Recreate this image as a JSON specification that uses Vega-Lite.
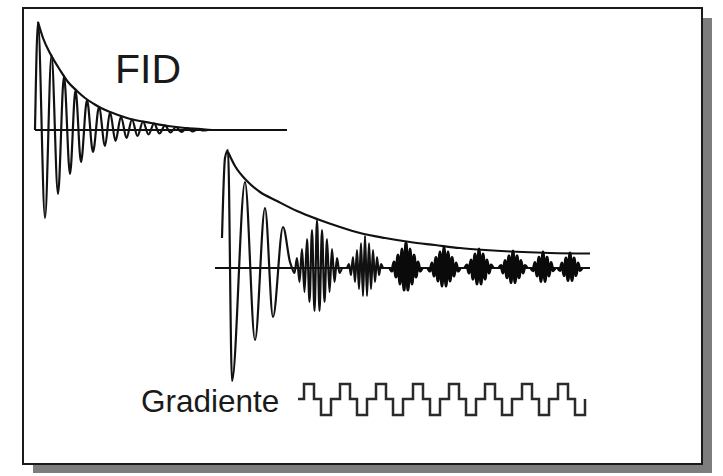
{
  "$schema": "https://vega.github.io/schema/vega-lite/v6.json",
  "width": 723,
  "height": 476,
  "padding": 0,
  "autosize": {"type": "none"},
  "background": "white",
  "config": {"view": {"stroke": null}},
  "datasets": {
    "frame": [
      {"part": "shadow", "x": 33, "x2": 712, "y": 18, "y2": 473},
      {"part": "box", "x": 23, "x2": 702, "y": 8, "y2": 464}
    ],
    "axes": [
      {"s": "fid", "x": 35, "x2": 287, "y": 130},
      {"s": "echo", "x": 215, "x2": 590, "y": 268}
    ],
    "env": [
      {"s": "e1", "t": 38, "v": 22}, {"s": "e1", "t": 43, "v": 38}, {"s": "e1", "t": 51, "v": 55}, {"s": "e1", "t": 60, "v": 70},
      {"s": "e1", "t": 68, "v": 82}, {"s": "e1", "t": 77, "v": 91}, {"s": "e1", "t": 85, "v": 98}, {"s": "e1", "t": 94, "v": 104},
      {"s": "e1", "t": 101, "v": 108}, {"s": "e1", "t": 110, "v": 112}, {"s": "e1", "t": 118, "v": 115}, {"s": "e1", "t": 127, "v": 118},
      {"s": "e1", "t": 135, "v": 120}, {"s": "e1", "t": 151, "v": 123}, {"s": "e1", "t": 168, "v": 126}, {"s": "e1", "t": 185, "v": 128},
      {"s": "e1", "t": 201, "v": 129}, {"s": "e1", "t": 212, "v": 130},
      {"s": "e2", "t": 228, "v": 152}, {"s": "e2", "t": 235, "v": 166}, {"s": "e2", "t": 247, "v": 181}, {"s": "e2", "t": 260, "v": 192},
      {"s": "e2", "t": 277, "v": 201}, {"s": "e2", "t": 297, "v": 211}, {"s": "e2", "t": 317, "v": 219}, {"s": "e2", "t": 340, "v": 227},
      {"s": "e2", "t": 360, "v": 233}, {"s": "e2", "t": 385, "v": 238}, {"s": "e2", "t": 410, "v": 242}, {"s": "e2", "t": 435, "v": 245},
      {"s": "e2", "t": 460, "v": 248}, {"s": "e2", "t": 485, "v": 250}, {"s": "e2", "t": 510, "v": 251.5}, {"s": "e2", "t": 550, "v": 253},
      {"s": "e2", "t": 590, "v": 253.5}
    ],
    "sig": [
      {"s": "f1", "t": 35, "v": 130}, {"s": "f1", "t": 38, "v": 22}, {"s": "f1", "t": 45, "v": 218}, {"s": "f1", "t": 51.5, "v": 55},
      {"s": "f1", "t": 58, "v": 194}, {"s": "f1", "t": 64, "v": 76}, {"s": "f1", "t": 70, "v": 174}, {"s": "f1", "t": 75.5, "v": 90},
      {"s": "f1", "t": 81, "v": 162}, {"s": "f1", "t": 87, "v": 100}, {"s": "f1", "t": 93, "v": 152}, {"s": "f1", "t": 99, "v": 107},
      {"s": "f1", "t": 105, "v": 146}, {"s": "f1", "t": 110, "v": 112}, {"s": "f1", "t": 115.5, "v": 141}, {"s": "f1", "t": 121, "v": 116.5},
      {"s": "f1", "t": 126.5, "v": 138}, {"s": "f1", "t": 132, "v": 119.5}, {"s": "f1", "t": 137.5, "v": 136}, {"s": "f1", "t": 143, "v": 121.5},
      {"s": "f1", "t": 148.5, "v": 134.5}, {"s": "f1", "t": 154, "v": 123.5}, {"s": "f1", "t": 159.5, "v": 133.5}, {"s": "f1", "t": 165, "v": 125.5},
      {"s": "f1", "t": 170.5, "v": 132.5}, {"s": "f1", "t": 176, "v": 127}, {"s": "f1", "t": 181.5, "v": 132}, {"s": "f1", "t": 187, "v": 128},
      {"s": "f1", "t": 192.5, "v": 131.5}, {"s": "f1", "t": 198, "v": 129}, {"s": "f1", "t": 203, "v": 130.5}, {"s": "f1", "t": 208, "v": 130},

      {"s": "f2", "t": 222, "v": 238}, {"s": "f2", "t": 225, "v": 158}, {"s": "f2", "t": 228, "v": 150}, {"s": "f2", "t": 232, "v": 381},
      {"s": "f2", "t": 245, "v": 182}, {"s": "f2", "t": 255, "v": 340}, {"s": "f2", "t": 265, "v": 208}, {"s": "f2", "t": 273, "v": 317},
      {"s": "f2", "t": 283, "v": 227}, {"s": "f2", "t": 290, "v": 262}, {"s": "f2", "t": 292, "v": 268},

      {"s": "h1", "t": 292, "v": 268}, {"s": "h1", "t": 294.5, "v": 273}, {"s": "h1", "t": 297, "v": 258}, {"s": "h1", "t": 299.5, "v": 282},
      {"s": "h1", "t": 302, "v": 249}, {"s": "h1", "t": 304.5, "v": 292}, {"s": "h1", "t": 307, "v": 239}, {"s": "h1", "t": 309.5, "v": 302},
      {"s": "h1", "t": 312, "v": 230}, {"s": "h1", "t": 314.5, "v": 311}, {"s": "h1", "t": 317, "v": 220}, {"s": "h1", "t": 319.5, "v": 311},
      {"s": "h1", "t": 322, "v": 230}, {"s": "h1", "t": 324.5, "v": 302}, {"s": "h1", "t": 327, "v": 239}, {"s": "h1", "t": 329.5, "v": 292},
      {"s": "h1", "t": 332, "v": 249}, {"s": "h1", "t": 334.5, "v": 282}, {"s": "h1", "t": 337, "v": 258}, {"s": "h1", "t": 339.5, "v": 273},
      {"s": "h1", "t": 342, "v": 268},

      {"s": "h2", "t": 347, "v": 268}, {"s": "h2", "t": 349, "v": 264}, {"s": "h2", "t": 351, "v": 275}, {"s": "h2", "t": 353, "v": 257},
      {"s": "h2", "t": 355, "v": 282}, {"s": "h2", "t": 357, "v": 250}, {"s": "h2", "t": 359, "v": 289}, {"s": "h2", "t": 361, "v": 243},
      {"s": "h2", "t": 363, "v": 296}, {"s": "h2", "t": 365, "v": 236}, {"s": "h2", "t": 367, "v": 296}, {"s": "h2", "t": 369, "v": 243},
      {"s": "h2", "t": 371, "v": 289}, {"s": "h2", "t": 373, "v": 250}, {"s": "h2", "t": 375, "v": 282}, {"s": "h2", "t": 377, "v": 257},
      {"s": "h2", "t": 379, "v": 275}, {"s": "h2", "t": 381, "v": 264}, {"s": "h2", "t": 383, "v": 268},

      {"s": "h3", "t": 390, "v": 268}, {"s": "h3", "t": 392, "v": 271}, {"s": "h3", "t": 394, "v": 262}, {"s": "h3", "t": 396, "v": 277},
      {"s": "h3", "t": 398, "v": 255}, {"s": "h3", "t": 400, "v": 284}, {"s": "h3", "t": 402, "v": 249}, {"s": "h3", "t": 404, "v": 290},
      {"s": "h3", "t": 406, "v": 243}, {"s": "h3", "t": 408, "v": 290}, {"s": "h3", "t": 410, "v": 249}, {"s": "h3", "t": 412, "v": 284},
      {"s": "h3", "t": 414, "v": 255}, {"s": "h3", "t": 416, "v": 277}, {"s": "h3", "t": 418, "v": 262}, {"s": "h3", "t": 420, "v": 271},
      {"s": "h3", "t": 422, "v": 268},

      {"s": "h4", "t": 428, "v": 268}, {"s": "h4", "t": 430, "v": 271}, {"s": "h4", "t": 432, "v": 263}, {"s": "h4", "t": 434, "v": 276},
      {"s": "h4", "t": 436, "v": 257.5}, {"s": "h4", "t": 438, "v": 281}, {"s": "h4", "t": 440, "v": 252}, {"s": "h4", "t": 442, "v": 286},
      {"s": "h4", "t": 444, "v": 247}, {"s": "h4", "t": 446, "v": 286}, {"s": "h4", "t": 448, "v": 252}, {"s": "h4", "t": 450, "v": 281},
      {"s": "h4", "t": 452, "v": 257.5}, {"s": "h4", "t": 454, "v": 276}, {"s": "h4", "t": 456, "v": 263}, {"s": "h4", "t": 458, "v": 271},
      {"s": "h4", "t": 460, "v": 268},

      {"s": "h5", "t": 465, "v": 268}, {"s": "h5", "t": 467, "v": 265}, {"s": "h5", "t": 469, "v": 273}, {"s": "h5", "t": 471, "v": 260},
      {"s": "h5", "t": 473, "v": 279}, {"s": "h5", "t": 475, "v": 254}, {"s": "h5", "t": 477, "v": 284}, {"s": "h5", "t": 479, "v": 249},
      {"s": "h5", "t": 481, "v": 284}, {"s": "h5", "t": 483, "v": 254}, {"s": "h5", "t": 485, "v": 279}, {"s": "h5", "t": 487, "v": 260},
      {"s": "h5", "t": 489, "v": 273}, {"s": "h5", "t": 491, "v": 265}, {"s": "h5", "t": 493, "v": 268},

      {"s": "h6", "t": 499, "v": 268}, {"s": "h6", "t": 501, "v": 265.6}, {"s": "h6", "t": 503, "v": 273}, {"s": "h6", "t": 505, "v": 260.7},
      {"s": "h6", "t": 507, "v": 277.7}, {"s": "h6", "t": 509, "v": 255.9}, {"s": "h6", "t": 511, "v": 282.6}, {"s": "h6", "t": 513, "v": 251},
      {"s": "h6", "t": 515, "v": 282.6}, {"s": "h6", "t": 517, "v": 255.9}, {"s": "h6", "t": 519, "v": 277.7}, {"s": "h6", "t": 521, "v": 260.7},
      {"s": "h6", "t": 523, "v": 273}, {"s": "h6", "t": 525, "v": 265.6}, {"s": "h6", "t": 527, "v": 268},

      {"s": "h7", "t": 531, "v": 268}, {"s": "h7", "t": 533, "v": 270.7}, {"s": "h7", "t": 535, "v": 262.7}, {"s": "h7", "t": 537, "v": 276},
      {"s": "h7", "t": 539, "v": 257.3}, {"s": "h7", "t": 541, "v": 281.3}, {"s": "h7", "t": 543, "v": 252}, {"s": "h7", "t": 545, "v": 281.3},
      {"s": "h7", "t": 547, "v": 257.3}, {"s": "h7", "t": 549, "v": 276}, {"s": "h7", "t": 551, "v": 262.7}, {"s": "h7", "t": 553, "v": 270.7},
      {"s": "h7", "t": 555, "v": 268},

      {"s": "h8", "t": 558, "v": 268}, {"s": "h8", "t": 560, "v": 270.5}, {"s": "h8", "t": 562, "v": 263}, {"s": "h8", "t": 564, "v": 275.5},
      {"s": "h8", "t": 566, "v": 258}, {"s": "h8", "t": 568, "v": 280.5}, {"s": "h8", "t": 570, "v": 253}, {"s": "h8", "t": 572, "v": 280.5},
      {"s": "h8", "t": 574, "v": 258}, {"s": "h8", "t": 576, "v": 275.5}, {"s": "h8", "t": 578, "v": 263}, {"s": "h8", "t": 580, "v": 270.5},
      {"s": "h8", "t": 582, "v": 268}
    ],
    "grad": [
      {"t": 298, "v": 399}, {"t": 304, "v": 399}, {"t": 304, "v": 384}, {"t": 314, "v": 384}, {"t": 314, "v": 399}, {"t": 321, "v": 399}, {"t": 321, "v": 415}, {"t": 331, "v": 415}, {"t": 331, "v": 399}, {"t": 340, "v": 399},
      {"t": 340, "v": 384}, {"t": 350, "v": 384}, {"t": 350, "v": 399}, {"t": 357, "v": 399}, {"t": 357, "v": 415}, {"t": 367, "v": 415}, {"t": 367, "v": 399}, {"t": 376, "v": 399},
      {"t": 376, "v": 384}, {"t": 386, "v": 384}, {"t": 386, "v": 399}, {"t": 393, "v": 399}, {"t": 393, "v": 415}, {"t": 403, "v": 415}, {"t": 403, "v": 399}, {"t": 413, "v": 399},
      {"t": 413, "v": 384}, {"t": 423, "v": 384}, {"t": 423, "v": 399}, {"t": 430, "v": 399}, {"t": 430, "v": 415}, {"t": 440, "v": 415}, {"t": 440, "v": 399}, {"t": 449, "v": 399},
      {"t": 449, "v": 384}, {"t": 459, "v": 384}, {"t": 459, "v": 399}, {"t": 466, "v": 399}, {"t": 466, "v": 415}, {"t": 476, "v": 415}, {"t": 476, "v": 399}, {"t": 485, "v": 399},
      {"t": 485, "v": 384}, {"t": 495, "v": 384}, {"t": 495, "v": 399}, {"t": 502, "v": 399}, {"t": 502, "v": 415}, {"t": 512, "v": 415}, {"t": 512, "v": 399}, {"t": 522, "v": 399},
      {"t": 522, "v": 384}, {"t": 532, "v": 384}, {"t": 532, "v": 399}, {"t": 539, "v": 399}, {"t": 539, "v": 415}, {"t": 549, "v": 415}, {"t": 549, "v": 399}, {"t": 558, "v": 399},
      {"t": 558, "v": 384}, {"t": 568, "v": 384}, {"t": 568, "v": 399}, {"t": 575, "v": 399}, {"t": 575, "v": 415}, {"t": 585, "v": 415}, {"t": 585, "v": 399}
    ],
    "labels": [
      {"label": "FID", "t": 115, "v": 83, "size": "big"},
      {"label": "Gradiente", "t": 141, "v": 412, "size": "small"}
    ]
  },
  "layer": [
    {
      "data": {"name": "frame"},
      "transform": [{"filter": "datum.part === 'shadow'"}],
      "mark": {"type": "rect", "fill": "#7d7d7d"},
      "encoding": {
        "x": {"field": "x", "type": "quantitative", "scale": {"domain": [0, 723], "nice": false, "zero": false}, "axis": null},
        "x2": {"field": "x2"},
        "y": {"field": "y", "type": "quantitative", "scale": {"domain": [0, 476], "reverse": true, "nice": false, "zero": false}, "axis": null},
        "y2": {"field": "y2"}
      }
    },
    {
      "data": {"name": "frame"},
      "transform": [{"filter": "datum.part === 'box'"}],
      "mark": {"type": "rect", "fill": "white", "stroke": "#1a1a1a", "strokeWidth": 2},
      "encoding": {
        "x": {"field": "x", "type": "quantitative", "scale": {"domain": [0, 723], "nice": false, "zero": false}, "axis": null},
        "x2": {"field": "x2"},
        "y": {"field": "y", "type": "quantitative", "scale": {"domain": [0, 476], "reverse": true, "nice": false, "zero": false}, "axis": null},
        "y2": {"field": "y2"}
      }
    },
    {
      "data": {"name": "axes"},
      "mark": {"type": "rule", "color": "#111", "strokeWidth": 2},
      "encoding": {
        "x": {"field": "x", "type": "quantitative", "scale": {"domain": [0, 723], "nice": false, "zero": false}, "axis": null},
        "x2": {"field": "x2"},
        "y": {"field": "y", "type": "quantitative", "scale": {"domain": [0, 476], "reverse": true, "nice": false, "zero": false}, "axis": null}
      }
    },
    {
      "data": {"name": "env"},
      "mark": {"type": "line", "color": "#111", "strokeWidth": 2.2, "interpolate": "monotone"},
      "encoding": {
        "x": {"field": "t", "type": "quantitative", "scale": {"domain": [0, 723], "nice": false, "zero": false}, "axis": null},
        "y": {"field": "v", "type": "quantitative", "scale": {"domain": [0, 476], "reverse": true, "nice": false, "zero": false}, "axis": null},
        "detail": {"field": "s"},
        "order": {"value": null}
      }
    },
    {
      "data": {"name": "sig"},
      "transform": [{"filter": "indexof(['f1','f2','h1','h2'], datum.s) >= 0"}],
      "mark": {"type": "line", "color": "#111", "strokeWidth": 2.2, "interpolate": "monotone"},
      "encoding": {
        "x": {"field": "t", "type": "quantitative", "scale": {"domain": [0, 723], "nice": false, "zero": false}, "axis": null},
        "y": {"field": "v", "type": "quantitative", "scale": {"domain": [0, 476], "reverse": true, "nice": false, "zero": false}, "axis": null},
        "detail": {"field": "s"},
        "order": {"value": null}
      }
    },
    {
      "data": {"name": "sig"},
      "transform": [{"filter": "indexof(['f1','f2','h1','h2'], datum.s) < 0"}],
      "mark": {"type": "line", "color": "#0a0a0a", "strokeWidth": 3.2, "interpolate": "monotone"},
      "encoding": {
        "x": {"field": "t", "type": "quantitative", "scale": {"domain": [0, 723], "nice": false, "zero": false}, "axis": null},
        "y": {"field": "v", "type": "quantitative", "scale": {"domain": [0, 476], "reverse": true, "nice": false, "zero": false}, "axis": null},
        "detail": {"field": "s"},
        "order": {"value": null}
      }
    },
    {
      "data": {"name": "grad"},
      "mark": {"type": "line", "color": "#2a2a2a", "strokeWidth": 2.5},
      "encoding": {
        "x": {"field": "t", "type": "quantitative", "scale": {"domain": [0, 723], "nice": false, "zero": false}, "axis": null},
        "y": {"field": "v", "type": "quantitative", "scale": {"domain": [0, 476], "reverse": true, "nice": false, "zero": false}, "axis": null},
        "order": {"value": null}
      }
    },
    {
      "data": {"name": "labels"},
      "mark": {"type": "text", "align": "left", "baseline": "alphabetic", "font": "Liberation Sans", "color": "#1a1a1a"},
      "encoding": {
        "x": {"field": "t", "type": "quantitative", "scale": {"domain": [0, 723], "nice": false, "zero": false}, "axis": null},
        "y": {"field": "v", "type": "quantitative", "scale": {"domain": [0, 476], "reverse": true, "nice": false, "zero": false}, "axis": null},
        "text": {"field": "label"},
        "size": {"field": "size", "type": "nominal", "scale": {"domain": ["big", "small"], "range": [41, 31.5]}, "legend": null}
      }
    }
  ]
}
